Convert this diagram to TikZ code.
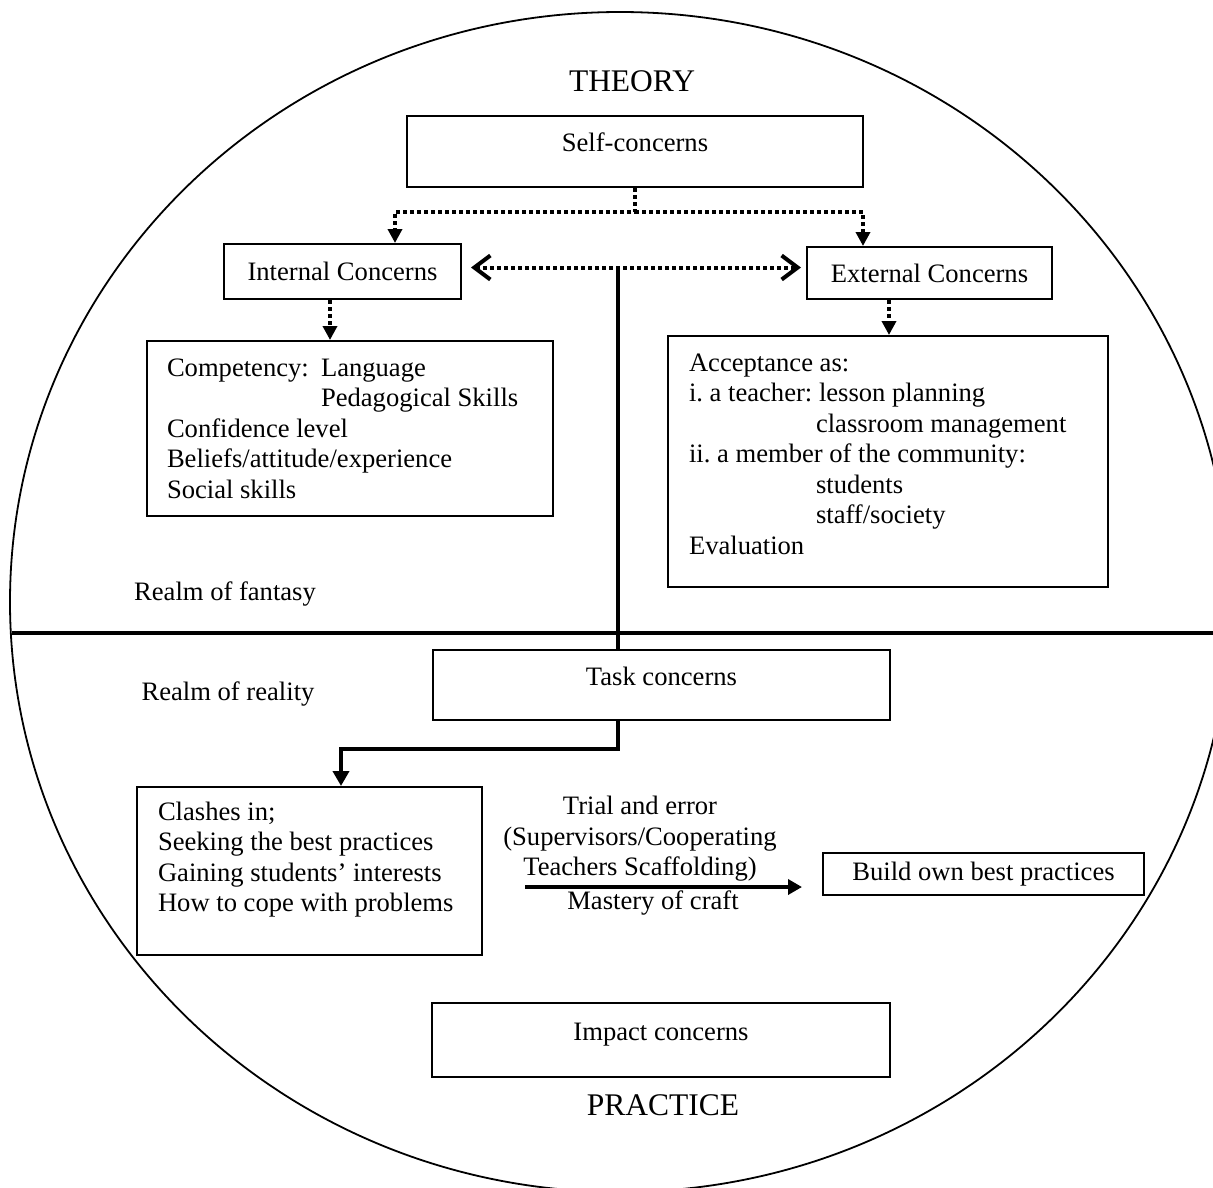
\documentclass[tikz,border=0pt]{standalone}
\usepackage{fontspec}
\setmainfont{Liberation Serif}
\usetikzlibrary{arrows.meta}
\usetikzlibrary{calc}
\tikzset{basic box/.style={draw,rectangle,line width=2pt,inner sep=0pt}}
\tikzset{box/.style={basic box,align=center}}
\tikzset{list box/.style={basic box,align=left,inner xsep=20pt}}
\tikzset{edge/.style={draw,line width=4pt}}
\tikzset{dotted edge/.style={draw,line width=4pt,dash pattern=on 4pt off 3pt}}

\begin{document}
\begin{tikzpicture}
    [
      x=1pt, y=1pt,
      font=\fontsize{26.6}{30.5}\selectfont,
      execute at begin node={\frenchspacing\spaceskip=0pt\xspaceskip=0pt},
      title/.style = {font=\fontsize{31.5}{36}\selectfont},
      down tip/.style = {-{Triangle[length=14pt,width=14pt]}},
      barb tips/.style = {{Straight Barb[length=16pt,width=24pt]}-{Straight Barb[length=16pt,width=24pt]}},
    ]
    \useasboundingbox (0,0) rectangle (1213,-1187);
    \clip (0,0) rectangle (1213,-1187);

    % frame
    \draw[line width=1.8pt] (620,-602) ellipse [x radius=610pt, y radius=590pt];
    \draw[edge] (12,-633) -- (1213,-633);

    % headings
    \node[title] (theory) at (632,-81) {THEORY};
    \node[title] (practice) at (663,-1105) {PRACTICE};
    \node (fantasy) at (225,-594) {Realm of fantasy};
    \node (reality) at (228,-694) {Realm of reality};

    % theory boxes
    \node[box,minimum width=456pt,minimum height=71pt,text height=18pt,text depth=18pt] (self) at (635,-151.5) {Self-concerns};
    \node[box,minimum width=237pt,minimum height=55pt] (intl) at (342.5,-271.5) {Internal Concerns};
    \node[box,minimum width=245pt,minimum height=52pt] (extl) at (929.5,-273) {External Concerns};

    \node[list box,text width=366pt,minimum width=406pt,minimum height=175pt] (comp) at (350,-428.5)
      {\makebox[154pt][l]{Competency:}Language\\
       \hspace*{154pt}Pedagogical~Skills\\
       Confidence level\\
       Beliefs/attitude/experience\\
       Social skills};

    \node[list box,inner xsep=21pt,text width=398pt,minimum width=440pt,minimum height=251pt] (accept) at (888,-461.5)
      {Acceptance as:\\
       \makebox[130pt][l]{i. a teacher:}lesson planning\\
       \hspace*{127pt}classroom management\\
       ii. a member of the community:\\
       \hspace*{127pt}students\\
       \hspace*{127pt}staff/society\\
       Evaluation\rule[-15pt]{0pt}{15pt}};

    % practice boxes
    \node[box,minimum width=457pt,minimum height=70pt,text height=18pt,text depth=18pt] (task) at (661.5,-685) {Task concerns};

    \node[list box,inner xsep=21pt,text width=303pt,minimum width=345pt,minimum height=168pt] (clash) at (309.5,-871)
      {Clashes in;\\
       Seeking the best practices\\
       Gaining students’ interests\\
       How to cope with problems\rule[-28pt]{0pt}{28pt}};

    \node[box,minimum width=321pt,minimum height=42pt] (build) at (983.5,-874) {Build own best practices};
    \node[box,minimum width=458pt,minimum height=74pt,text height=18pt,text depth=18pt] (impact) at (661,-1040) {Impact concerns};

    % arrow labels
    \node[align=center] (trial) at (640,-839) {Trial and error\\(Supervisors/Cooperating\\Teachers Scaffolding)};
    \node (craft) at (653,-903) {Mastery of craft};

    % self-concerns split
    \coordinate (split) at (635,-212);
    \draw[dotted edge,down tip] (self.south) -- (split) -| ([xshift=52.5pt]intl.north);
    \draw[dotted edge,down tip] (split) -| ([xshift=-66.5pt]extl.north);
    \draw[dotted edge,down tip] ([xshift=-12.5pt]intl.south) -- ([xshift=-12.5pt]intl.south |- comp.north);
    \draw[dotted edge,down tip] ([xshift=-40.5pt]extl.south) -- ([xshift=-40.5pt]extl.south |- accept.north);

    % internal <-> external
    \coordinate (junction) at (618,-267.5);
    \draw[dotted edge,barb tips] ([xshift=9pt]intl.east |- junction) -- ([xshift=-5pt]extl.west |- junction);

    % into practice
    \draw[edge] (junction) -- (junction |- task.north);
    \draw[edge,-{Triangle[length=15pt,width=16pt]}] (junction |- task.south) -- ++(0,-28) -| ([xshift=31.5pt]clash.north);

    \coordinate (start) at (525,-887);
    \draw[edge,-{Triangle[length=14pt,width=15pt]}] (start) -- ($(start -| build.west)+(-20,0)$);

  \end{tikzpicture}
\end{document}
